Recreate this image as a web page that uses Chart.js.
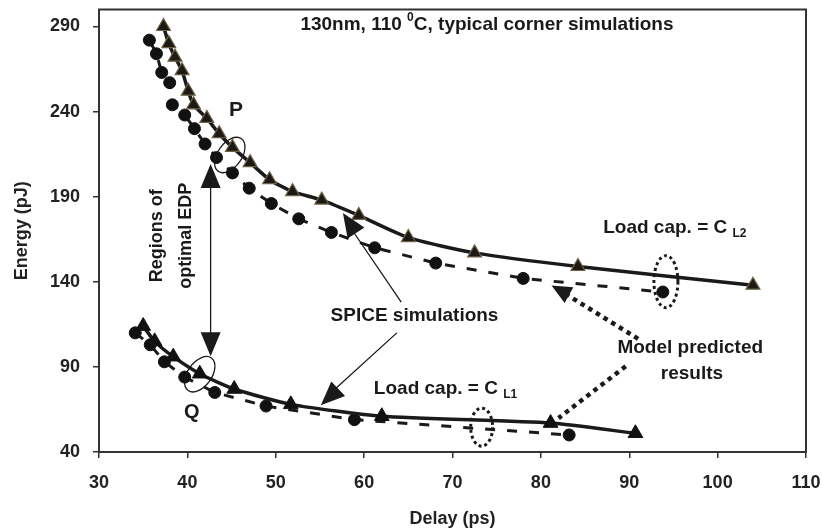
<!DOCTYPE html>
<html>
<head>
<meta charset="utf-8">
<script src="https://cdn.jsdelivr.net/npm/chart.js@4.4.0/dist/chart.umd.min.js"></script>
<style>
  body { margin: 0; background: #fff; }
  #wrap { width: 823px; height: 531px; }
</style>
</head>
<body>
<div id="wrap"><canvas id="edp" width="823" height="531"></canvas></div>
<script>
// values (delay in ps, energy in pJ)
const cl2SpiceDelay = [37.3, 37.9, 38.6, 39.4, 40.1, 40.7, 42.2, 43.6, 45.1, 47.1, 49.3, 51.9, 55.2, 59.4, 65.0, 72.5, 84.2, 104.0];
const cl2SpiceEnergy = [290, 280, 272, 264, 252, 244, 236, 227, 219, 210, 200, 193, 188, 179, 166, 157, 149, 138];
const cl2ModelDelay = [35.7, 36.5, 37.1, 38.0, 38.3, 39.7, 40.8, 42.0, 43.3, 45.1, 47.0, 49.5, 52.6, 56.3, 61.2, 68.1, 78.0, 93.8];
const cl2ModelEnergy = [282, 274, 263, 257, 244, 238, 230, 221, 213, 204, 195, 186, 177, 169, 160, 151, 142, 134];

const cl1SpiceDelay = [35.0, 36.3, 38.4, 41.4, 45.3, 51.7, 62.0, 81.1, 90.7];
const cl1SpiceEnergy = [114, 105, 96, 86, 77, 68, 61, 57, 51];
const cl1ModelDelay = [34.1, 35.8, 37.4, 39.7, 43.1, 48.9, 58.9, 83.2];
const cl1ModelEnergy = [110, 103, 93, 84, 75, 67, 59, 50];

const energyTicks = [40, 90, 140, 190, 240, 290];

const FONT = '"Liberation Sans", Arial, sans-serif';
const INK = '#1a1a1a';

function pts(xs, ys) {
    return xs.map((v, i) => ({x: v, y: ys[i]}));
}

function arrowHead(ctx, fx, fy, tx, ty, len, hw) {
    const ang = Math.atan2(ty - fy, tx - fx);
    ctx.save();
    ctx.translate(tx, ty);
    ctx.rotate(ang);
    ctx.beginPath();
    ctx.moveTo(0, 0);
    ctx.lineTo(-len, hw);
    ctx.lineTo(-len, -hw);
    ctx.closePath();
    ctx.fill();
    ctx.restore();
}

function label(ctx, txt, x, y, size, align, rot) {
    ctx.save();
    ctx.translate(x, y);
    if (rot) ctx.rotate(rot);
    ctx.font = 'bold ' + size + 'px ' + FONT;
    ctx.textAlign = align || 'center';
    ctx.textBaseline = 'middle';
    ctx.fillText(txt, 0, 0);
    ctx.restore();
}

// text with a small raised/lowered piece in the middle
function mixed(ctx, parts, x, y, align) {
    ctx.save();
    ctx.textBaseline = 'alphabetic';
    ctx.textAlign = 'left';
    let w = 0;
    parts.forEach(p => { ctx.font = 'bold ' + p.size + 'px ' + FONT; w += ctx.measureText(p.t).width; });
    let cx = align === 'left' ? x : x - w / 2;
    parts.forEach(p => {
        ctx.font = 'bold ' + p.size + 'px ' + FONT;
        ctx.fillText(p.t, cx, y + (p.dy || 0));
        cx += ctx.measureText(p.t).width;
    });
    ctx.restore();
}

const notes = {
    id: 'notes',
    beforeDatasetsDraw(chart) {
        const {ctx, chartArea: a} = chart;
        ctx.save();
        ctx.strokeStyle = '#333';
        ctx.lineWidth = 2;
        ctx.strokeRect(a.left, a.top, a.right - a.left, a.bottom - a.top);
        ctx.restore();
    },
    afterDatasetsDraw(chart) {
        const {ctx, scales: {x, y}} = chart;
        const X = v => x.getPixelForValue(v);
        const Y = v => y.getPixelForValue(v);
        ctx.save();
        ctx.fillStyle = INK;
        ctx.strokeStyle = INK;

        mixed(ctx, [
            {t: '130nm, 110 ', size: 19},
            {t: '0', size: 12, dy: -9},
            {t: 'C, typical corner simulations', size: 19}
        ], X(73.9), Y(291.8) + 7);

        label(ctx, 'P', X(45.5), Y(240.8), 21);
        label(ctx, 'Q', X(40.5), Y(63), 20);
        label(ctx, 'Regions of', X(36.6), Y(167), 18, 'center', -Math.PI / 2);
        label(ctx, 'optimal EDP', X(39.9), Y(167), 18, 'center', -Math.PI / 2);
        label(ctx, 'SPICE simulations', X(65.7), Y(120.3), 19);
        label(ctx, 'Model predicted', X(96.9), Y(101.3), 19);
        label(ctx, 'results', X(97.1), Y(86.1), 19);

        mixed(ctx, [
            {t: 'Load cap. = C ', size: 19},
            {t: 'L2', size: 12, dy: 4}
        ], X(87.05), Y(173) + 7, 'left');
        mixed(ctx, [
            {t: 'Load cap. = C ', size: 19},
            {t: 'L1', size: 12, dy: 4}
        ], X(61.1), Y(78.1) + 7, 'left');

        // ellipses around P and Q
        ctx.lineWidth = 1.3;
        [[44.8, 214.5], [41.4, 85.7]].forEach(([ex, ey]) => {
            ctx.beginPath();
            ctx.ellipse(X(ex), Y(ey), 12, 20, 0.62, 0, Math.PI * 2);
            ctx.stroke();
        });

        // dotted ellipses
        ctx.lineWidth = 3;
        ctx.setLineDash([3, 3]);
        ctx.beginPath();
        ctx.ellipse(X(94.15), Y(140.1), 12, 26, 0, 0, Math.PI * 2);
        ctx.stroke();
        ctx.beginPath();
        ctx.ellipse(X(73.3), Y(54.6), 11, 19, 0, 0, Math.PI * 2);
        ctx.stroke();

        // dotted arrows from "Model predicted results"
        ctx.lineWidth = 4.5;
        ctx.setLineDash([4.5, 4.5]);
        ctx.beginPath();
        ctx.moveTo(X(91.0), Y(106.5));
        ctx.lineTo(X(82.6), Y(133.5));
        ctx.moveTo(X(89.6), Y(90.4));
        ctx.lineTo(X(82.0), Y(59.9));
        ctx.stroke();
        ctx.setLineDash([]);
        arrowHead(ctx, X(92.4), Y(105.6), X(81.2), Y(137.8), 20, 9);

        // arrows from "SPICE simulations"
        ctx.lineWidth = 1.3;
        ctx.beginPath();
        ctx.moveTo(X(64.2), Y(128.0));
        ctx.lineTo(X(58.7), Y(170.0));
        ctx.moveTo(X(63.7), Y(110.0));
        ctx.lineTo(X(56.5), Y(76.0));
        ctx.stroke();
        arrowHead(ctx, X(64.2), Y(128.0), X(57.6), Y(180.5), 24, 10);
        arrowHead(ctx, X(63.7), Y(110.0), X(55.1), Y(67.5), 24, 10);

        // double arrow for the optimal EDP regions
        ctx.beginPath();
        ctx.moveTo(X(42.63), Y(205));
        ctx.lineTo(X(42.63), Y(100));
        ctx.stroke();
        arrowHead(ctx, X(42.63), Y(150), X(42.63), Y(209.2), 24, 10);
        arrowHead(ctx, X(42.63), Y(150), X(42.63), Y(96.2), 24, 10);

        ctx.restore();
    }
};

const tickFont = {family: FONT, size: 18, weight: 'bold'};
const noPad = s => { s.paddingTop = 0; s.paddingBottom = 0; s.paddingLeft = 0; s.paddingRight = 0; };

new Chart(document.getElementById('edp'), {
    type: 'scatter',
    data: {
        datasets: [
            {
                label: 'SPICE C_L2',
                data: pts(cl2SpiceDelay, cl2SpiceEnergy),
                showLine: true,
                borderColor: INK,
                borderWidth: 3.5,
                tension: 0.2,
                pointStyle: 'triangle',
                pointRadius: 8,
                pointBackgroundColor: '#1c1a14',
                pointBorderColor: '#6e6244',
                pointBorderWidth: 1.2,
                order: 1
            },
            {
                label: 'SPICE C_L1',
                data: pts(cl1SpiceDelay, cl1SpiceEnergy),
                showLine: true,
                borderColor: INK,
                borderWidth: 3.5,
                tension: 0.2,
                pointStyle: 'triangle',
                pointRadius: 8.5,
                pointBackgroundColor: '#111',
                pointBorderColor: '#111',
                pointBorderWidth: 1,
                order: 2
            },
            {
                label: 'Model C_L2',
                data: pts(cl2ModelDelay, cl2ModelEnergy),
                showLine: true,
                borderColor: INK,
                borderWidth: 3,
                borderDash: [10, 12],
                tension: 0,
                pointStyle: 'circle',
                pointRadius: 6,
                pointBackgroundColor: '#111',
                pointBorderColor: '#111',
                pointBorderWidth: 1,
                order: 3
            },
            {
                label: 'Model C_L1',
                data: pts(cl1ModelDelay, cl1ModelEnergy),
                showLine: true,
                borderColor: INK,
                borderWidth: 3,
                borderDash: [10, 12],
                tension: 0,
                pointStyle: 'circle',
                pointRadius: 6,
                pointBackgroundColor: '#111',
                pointBorderColor: '#111',
                pointBorderWidth: 1,
                order: 4
            }
        ]
    },
    options: {
        responsive: false,
        animation: false,
        layout: {padding: {top: 8, right: 17, left: 0, bottom: 0}},
        plugins: {
            legend: {display: false},
            tooltip: {enabled: false}
        },
        scales: {
            x: {
                type: 'linear',
                min: 30,
                max: 110,
                afterFit: s => { s.height = 79; noPad(s); },
                ticks: {stepSize: 10, font: tickFont, color: '#222', padding: 14, maxRotation: 0},
                grid: {drawOnChartArea: false, drawTicks: true, tickLength: 6, color: '#333', lineWidth: 1.5},
                border: {display: false},
                title: {display: true, text: 'Delay (ps)', font: {family: FONT, size: 18, weight: 'bold'}, color: '#222', padding: {top: 0, bottom: 1}}
            },
            y: {
                type: 'linear',
                min: 40,
                max: 300,
                afterFit: s => { s.width = 99; noPad(s); },
                afterBuildTicks: s => { s.ticks = energyTicks.map(v => ({value: v})); },
                ticks: {font: tickFont, color: '#222', padding: 13},
                grid: {drawOnChartArea: false, drawTicks: true, tickLength: 6, color: '#333', lineWidth: 1.5},
                border: {display: false},
                title: {display: true, text: 'Energy (pJ)', font: {family: FONT, size: 18, weight: 'bold'}, color: '#222', padding: {top: 11, bottom: 0}}
            }
        }
    },
    plugins: [notes]
});
</script>
</body>
</html>
